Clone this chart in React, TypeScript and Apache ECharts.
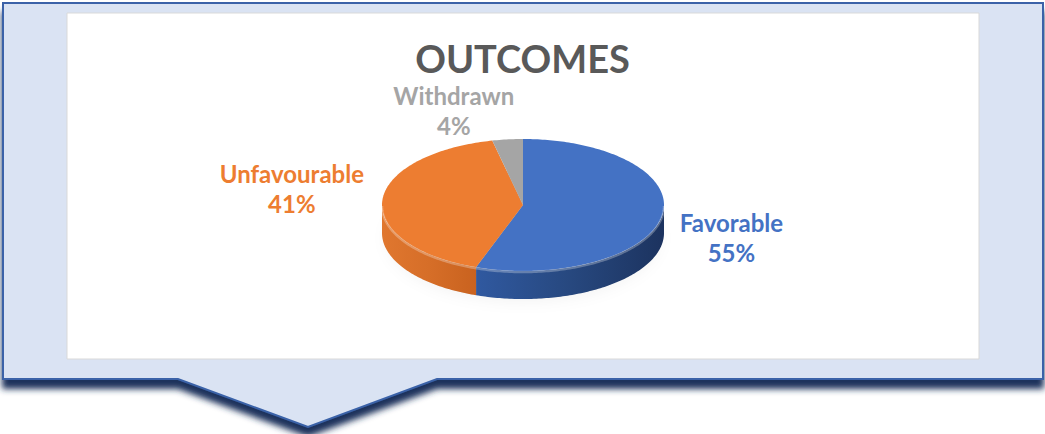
import React, { useEffect, useRef } from "react";
import * as echarts from "echarts";

// ---- data ----
const TITLE = "OUTCOMES";
const CATEGORIES = ["Favorable", "Unfavourable", "Withdrawn"];
const VALUES = [55.4, 41.1, 3.5];
const TOP_COLORS = ["#4472C4", "#ED7D31", "#A5A5A5"];
const LABEL_COLORS = ["#4472C4", "#ED7D31", "#A5A5A5"];

// ---- layout ----
const W = 1045;
const H = 434;
const CX = 523;
const CY = 205;
const RX = 141;
const RY = 66;
const DEPTH = 28;
const LABEL_FACTOR = 1.5;
const LABEL_NUDGE = [
  [0, 16],
  [-20, -11],
  [-46, 4],
];
const FONT = "Lato, 'Noto Sans', sans-serif";

const SIDE_STOPS = [
  [
    [0, "#3059A0"],
    [0.5, "#27487F"],
    [1, "#1C335F"],
  ],
  [
    [0, "#E0772F"],
    [0.5, "#D66E28"],
    [1, "#C9621F"],
  ],
  [
    [0, "#8F8F8F"],
    [1, "#777777"],
  ],
];

const TOTAL = VALUES.reduce((a, b) => a + b, 0);
const START = VALUES.map(
  (_, i) => (VALUES.slice(0, i).reduce((a, b) => a + b, 0) / TOTAL) * 360
);

function pt(theta: number, dy = 0): number[] {
  const r = (theta * Math.PI) / 180;
  return [CX + RX * Math.sin(r), CY - RY * Math.cos(r) + dy];
}
function arc(a0: number, a1: number, dy = 0): number[][] {
  const pts: number[][] = [];
  const n = Math.max(2, Math.ceil(Math.abs(a1 - a0)));
  for (let k = 0; k <= n; k++) pts.push(pt(a0 + ((a1 - a0) * k) / n, dy));
  return pts;
}

export default function App() {
  const ref = useRef<HTMLDivElement>(null);
  useEffect(() => {
    if (!ref.current) return;
    const chart = echarts.init(ref.current, undefined, { renderer: "svg" });

    const renderItem = (params: any, api: any) => {
      const i = params.dataIndex;
      const v = api.value(0);
      const a0 = START[i];
      const a1 = a0 + (v / TOTAL) * 360;
      const children: any[] = [];
      if (i === 0) {
        children.push({
          type: "ellipse",
          shape: { cx: CX, cy: CY + DEPTH + 2, rx: RX - 4, ry: RY - 2 },
          style: {
            fill: "rgba(0,0,0,0.15)",
            shadowBlur: 14,
            shadowColor: "rgba(0,0,0,0.3)",
            shadowOffsetY: 3,
          },
          z2: 0,
        });
      }
      const s = Math.max(a0, 90);
      const e = Math.min(a1, 270);
      if (e > s) {
        const top = arc(s, e);
        const bot = arc(e, s, DEPTH);
        children.push({
          type: "polygon",
          shape: { points: top.concat(bot) },
          style: {
            fill: new echarts.graphic.LinearGradient(
              0,
              0,
              1,
              0,
              SIDE_STOPS[i].map((st: any) => ({ offset: st[0], color: st[1] }))
            ),
          },
          z2: 1,
        });
      }
      children.push({
        type: "polygon",
        shape: { points: [[CX, CY], ...arc(a0, a1)] },
        style: { fill: TOP_COLORS[i] },
        z2: 2,
      });
      if (e > s) {
        children.push({
          type: "polyline",
          shape: { points: arc(s, e, 1) },
          style: { stroke: "rgba(255,255,255,0.28)", lineWidth: 2.5, fill: null },
          z2: 3,
        });
      }
      const mid = ((a0 + a1) / 2) * (Math.PI / 180);
      const lx = CX + LABEL_FACTOR * RX * Math.sin(mid) + LABEL_NUDGE[i][0];
      const ly = CY - LABEL_FACTOR * RY * Math.cos(mid) + LABEL_NUDGE[i][1];
      const pct = Math.round((v / TOTAL) * 100);
      children.push({
        type: "text",
        style: {
          x: lx,
          y: ly,
          text: `${CATEGORIES[i]}\n${pct}%`,
          fill: LABEL_COLORS[i],
          fontSize: 24,
          fontWeight: "bold",
          fontFamily: FONT,
          lineHeight: 30,
          align: "center",
          verticalAlign: "middle",
          textAlign: "center",
          textVerticalAlign: "middle",
        },
        z2: 5,
      });
      return { type: "group", children };
    };

    chart.setOption({
      animation: false,
      backgroundColor: "#FFFFFF",
      title: {
        text: TITLE,
        left: "center",
        top: 35,
        textStyle: {
          fontSize: 38,
          fontWeight: "bold",
          color: "#595959",
          fontFamily: FONT,
          lineHeight: 36,
        },
      },
      graphic: [
        {
          type: "polygon",
          z: -10,
          shape: {
            points: [
              [3, 3],
              [1043, 3],
              [1043, 379],
              [437, 379],
              [308, 427],
              [178, 379],
              [3, 379],
            ],
          },
          style: {
            fill: "#DAE3F3",
            stroke: "#3A62A8",
            lineWidth: 2,
            shadowColor: "rgba(28,50,92,1)",
            shadowBlur: 6,
            shadowOffsetY: 9,
          },
        },
        {
          type: "rect",
          z: -9,
          shape: { x: 67, y: 13, width: 912, height: 346 },
          style: { fill: "#FFFFFF", stroke: "#D9D9D9", lineWidth: 1 },
        },
      ],
      series: [
        {
          type: "custom",
          coordinateSystem: "none",
          renderItem,
          data: VALUES.map((v, i) => ({ value: [v], name: CATEGORIES[i] })),
          silent: true,
        },
      ],
    });
    return () => chart.dispose();
  }, []);
  return (
    <div
      ref={ref}
      style={{ position: "fixed", left: 0, top: 0, width: W, height: H }}
    />
  );
}
